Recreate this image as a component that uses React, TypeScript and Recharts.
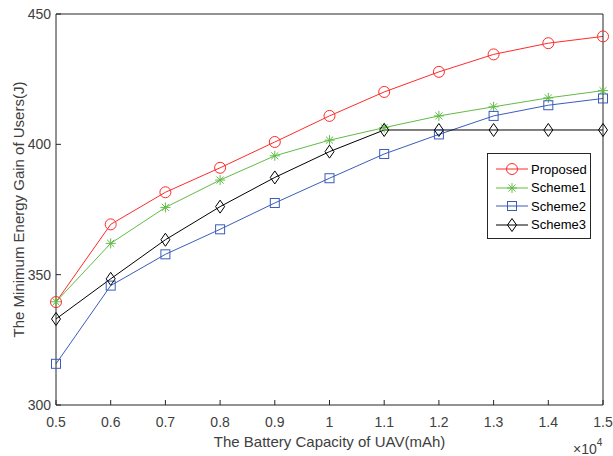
import React from "react"
import { LineChart, Line, XAxis, YAxis } from "recharts"

// battery capacity, in units of 10^4 mAh
const capacity = [0.5, 0.6, 0.7, 0.8, 0.9, 1, 1.1, 1.2, 1.3, 1.4, 1.5]
const proposed = [339.5, 369.3, 381.6, 391.0, 400.9, 410.9, 420.1, 427.8, 434.5, 438.8, 441.4]
const scheme1 = [339.6, 362.0, 375.8, 386.3, 395.6, 401.6, 406.4, 410.9, 414.4, 417.8, 420.6]
const scheme2 = [315.8, 345.8, 357.8, 367.4, 377.5, 387.0, 396.3, 403.8, 410.9, 415.0, 417.6]
const scheme3 = [333.0, 348.4, 363.4, 376.1, 387.3, 397.2, 405.5, 405.5, 405.5, 405.5, 405.5]
const yTicks = [300, 350, 400, 450]

const data = capacity.map((x, i) => ({
  x,
  proposed: proposed[i],
  scheme1: scheme1[i],
  scheme2: scheme2[i],
  scheme3: scheme3[i],
}))

const FONT = "'Liberation Sans', Arial, sans-serif"
const AXIS = "#262626"
const TEXT = "#404040"

type MarkerKind = "circle" | "star" | "square" | "diamond"

const series: { key: string; name: string; color: string; marker: MarkerKind }[] = [
  { key: "proposed", name: "Proposed", color: "#ff2a2a", marker: "circle" },
  { key: "scheme1", name: "Scheme1", color: "#62bb46", marker: "star" },
  { key: "scheme2", name: "Scheme2", color: "#3a5cbc", marker: "square" },
  { key: "scheme3", name: "Scheme3", color: "#000000", marker: "diamond" },
]

function Marker({ kind, cx, cy, color }: { kind: MarkerKind; cx: number; cy: number; color: string }) {
  if (kind === "circle") return <circle cx={cx} cy={cy} r={5.5} fill="none" stroke={color} strokeWidth={1} />
  if (kind === "square")
    return <rect x={cx - 4.5} y={cy - 4.5} width={9} height={9} fill="none" stroke={color} strokeWidth={1} />
  if (kind === "diamond")
    return (
      <path
        d={`M${cx},${cy - 6.5}L${cx + 4.5},${cy}L${cx},${cy + 6.5}L${cx - 4.5},${cy}Z`}
        fill="none"
        stroke={color}
        strokeWidth={1}
      />
    )
  const r = 5
  const d = r * 0.707
  return (
    <path
      d={`M${cx},${cy - r}V${cy + r}M${cx - r},${cy}H${cx + r}M${cx - d},${cy - d}L${cx + d},${cy + d}M${cx - d},${cy + d}L${cx + d},${cy - d}`}
      stroke={color}
      strokeWidth={1}
    />
  )
}

// legend box sits over the plot, top right
function LegendBox() {
  return (
    <div
      style={{
        position: "absolute",
        left: 487,
        top: 153,
        border: `1px solid ${AXIS}`,
        background: "#fff",
        width: 102,
        padding: "6px 0 4px 0",
        fontFamily: FONT,
        fontSize: 13,
        color: "#000",
      }}
    >
      {series.map((s) => (
        <div key={s.key} style={{ display: "flex", alignItems: "center", height: 18.5 }}>
          <svg width={42} height={16}>
            <line x1={8} y1={8} x2={40} y2={8} stroke={s.color} strokeWidth={1} />
            <Marker kind={s.marker} cx={24} cy={8} color={s.color} />
          </svg>
          <span style={{ marginLeft: 1 }}>{s.name}</span>
        </div>
      ))}
    </div>
  )
}

export default function App() {
  return (
    <div style={{ position: "absolute", left: 0, top: 0, width: 613, height: 456, background: "#fff" }}>
      <LineChart width={613} height={456} data={data} margin={{ top: 13, right: 9, bottom: 0, left: 0 }}>
        <XAxis
          dataKey="x"
          type="number"
          domain={[0.5, 1.5]}
          ticks={capacity}
          tickFormatter={(v: number) => String(v)}
          height={51}
          tickSize={-5}
          tickMargin={17}
          stroke={AXIS}
          tick={{ fill: TEXT, fontSize: 14, fontFamily: FONT }}
          label={{
            value: "The Battery Capacity of UAV(mAh)",
            position: "insideBottom",
            offset: 9,
            fill: TEXT,
            fontSize: 15,
            fontFamily: FONT,
          }}
        />
        <XAxis
          xAxisId="top"
          dataKey="x"
          type="number"
          orientation="top"
          domain={[0.5, 1.5]}
          ticks={capacity}
          height={1}
          tickSize={-5}
          tick={false}
          stroke={AXIS}
        />
        <YAxis
          type="number"
          domain={[300, 450]}
          ticks={yTicks}
          width={56}
          tickSize={-5}
          tickMargin={10}
          stroke={AXIS}
          tick={{ fill: TEXT, fontSize: 14, fontFamily: FONT }}
          label={{
            value: "The Minimum Energy Gain of Users(J)",
            angle: -90,
            position: "insideLeft",
            offset: 19,
            style: { textAnchor: "middle" },
            fill: TEXT,
            fontSize: 15,
            fontFamily: FONT,
          }}
        />
        <YAxis
          yAxisId="right"
          type="number"
          orientation="right"
          domain={[300, 450]}
          ticks={yTicks}
          width={1}
          tickSize={-5}
          tick={false}
          stroke={AXIS}
        />
        {series.map((s) => (
          <Line
            key={s.key}
            dataKey={s.key}
            name={s.name}
            type="linear"
            stroke={s.color}
            strokeWidth={1}
            isAnimationActive={false}
            dot={(p: any) => <Marker key={`${s.key}-${p.index}`} kind={s.marker} cx={p.cx} cy={p.cy} color={s.color} />}
            activeDot={false}
          />
        ))}
        <text x={573} y={454} fill={TEXT} fontSize={14} fontFamily={FONT}>
          ×10
          <tspan dy={-8} fontSize={10}>
            4
          </tspan>
        </text>
      </LineChart>
      <LegendBox />
    </div>
  )
}
